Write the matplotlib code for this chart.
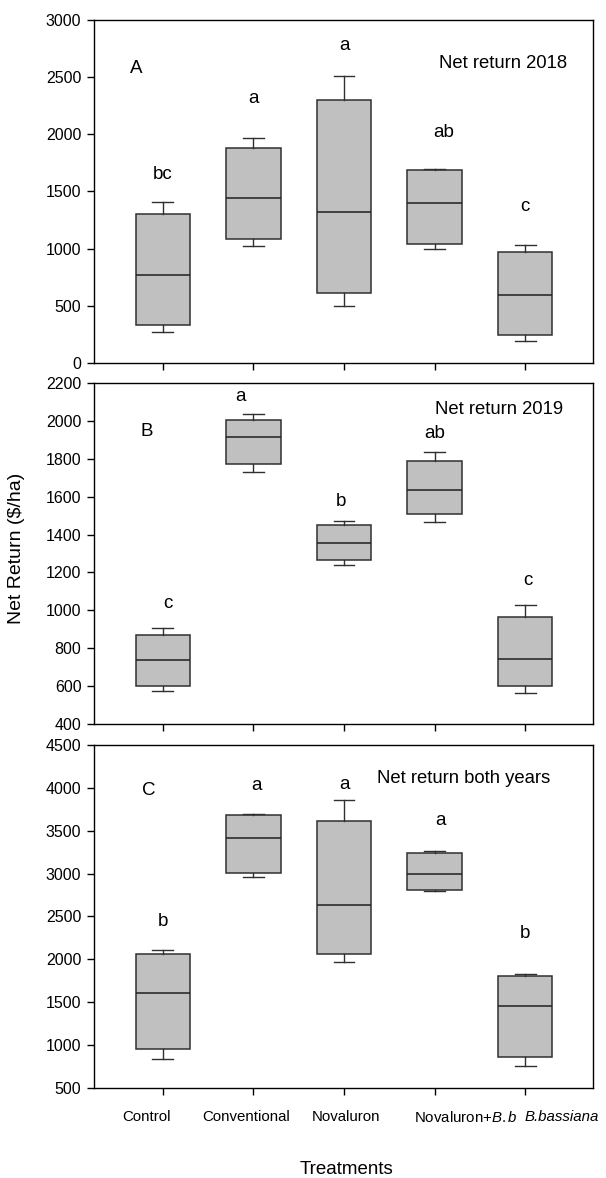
import matplotlib
matplotlib.use("Agg")
import matplotlib.pyplot as plt

plt.rcParams['font.family'] = ['Liberation Sans', 'DejaVu Sans']
plt.rcParams['mathtext.fontset'] = 'custom'
plt.rcParams['mathtext.rm'] = 'Liberation Sans'
plt.rcParams['mathtext.it'] = 'Liberation Sans:italic'

treatments = ["Control", "Conventional", "Novaluron", "Novaluron+$\\it{B{.}b}$", "B.bassiana"]

# box stats per panel: lower whisker, q1, median, q3, upper whisker
a_whislo = [267, 1025, 499, 996, 189]
a_q1 = [334, 1083, 616, 1037, 241]
a_med = [770, 1443, 1321, 1400, 595]
a_q3 = [1307, 1882, 2303, 1684, 967]
a_whishi = [1408, 1966, 2512, 1699, 1031]
a_letters = ["bc", "a", "a", "ab", "c"]
a_letter_y = [1647, 2315, 2779, 2018, 1365]

b_whislo = [572, 1732, 1238, 1467, 563]
b_q1 = [603, 1774, 1264, 1509, 603]
b_med = [738, 1916, 1357, 1636, 745]
b_q3 = [871, 2007, 1450, 1786, 964]
b_whishi = [906, 2035, 1473, 1837, 1029]
b_letters = ["c", "a", "b", "ab", "c"]
b_letter_y = [1038, 2130, 1574, 1935, 1155]

c_whislo = [837, 2963, 1975, 2796, 752]
c_q1 = [953, 3009, 2068, 2804, 856]
c_med = [1611, 3412, 2630, 2997, 1460]
c_q3 = [2060, 3683, 3617, 3241, 1809]
c_whishi = [2111, 3694, 3853, 3268, 1824]
c_letters = ["b", "a", "a", "a", "b"]
c_letter_y = [2436, 4024, 4043, 3617, 2300]

panels = [
    dict(lo=a_whislo, q1=a_q1, med=a_med, q3=a_q3, hi=a_whishi, letters=a_letters,
         ly=a_letter_y, tag="A", tag_y=2576, title="Net return 2018", title_y=2622,
         ylim=(0, 3000), yticks=range(0, 3001, 500),
         letter_dx=[0, 0, 0, 0.1, 0], tag_x=0.71, title_x=5.46,
         rect=[0.155, 0.6919, 0.824, 0.2911]),
    dict(lo=b_whislo, q1=b_q1, med=b_med, q3=b_q3, hi=b_whishi, letters=b_letters,
         ly=b_letter_y, tag="B", tag_y=1944, title="Net return 2019", title_y=2062,
         ylim=(400, 2200), yticks=range(400, 2201, 200),
         letter_dx=[0.06, -0.14, -0.03, 0, 0.03], tag_x=0.82, title_x=5.42,
         rect=[0.155, 0.3854, 0.824, 0.2895]),
    dict(lo=c_whislo, q1=c_q1, med=c_med, q3=c_q3, hi=c_whishi, letters=c_letters,
         ly=c_letter_y, tag="C", tag_y=3965, title="Net return both years", title_y=4113,
         ylim=(500, 4500), yticks=range(500, 4501, 500),
         letter_dx=[0, 0.03, 0, 0.06, 0], tag_x=0.85, title_x=5.27,
         rect=[0.155, 0.0764, 0.824, 0.2912]),
]

fig = plt.figure(figsize=(6.06, 11.78), dpi=100)
pos = [1, 2, 3, 4, 5]

for i, p in enumerate(panels):
    ax = fig.add_axes(p["rect"])
    stats = []
    for k in range(5):
        stats.append(dict(whislo=p["lo"][k], q1=p["q1"][k], med=p["med"][k],
                          q3=p["q3"][k], whishi=p["hi"][k], fliers=[]))
    ax.bxp(stats, positions=pos, widths=0.6, capwidths=0.23, patch_artist=True,
           showfliers=False,
           boxprops=dict(facecolor="#c0c0c0", edgecolor="#303030", linewidth=1.1),
           medianprops=dict(color="#202020", linewidth=1.1),
           whiskerprops=dict(color="#303030", linewidth=1.0),
           capprops=dict(color="#303030", linewidth=1.0))
    for k in range(5):
        ax.text(pos[k] + p["letter_dx"][k], p["ly"][k], p["letters"][k],
                ha="center", va="center", fontsize=13.5)
    ax.text(p["tag_x"], p["tag_y"], p["tag"], ha="center", va="center", fontsize=13.5)
    ax.text(p["title_x"], p["title_y"], p["title"], ha="right", va="center", fontsize=13.3)
    ax.set_xlim(0.24, 5.75)
    ax.set_ylim(*p["ylim"])
    ax.set_yticks(list(p["yticks"]))
    ax.set_xticks(pos)
    ax.set_xticklabels([])
    ax.tick_params(direction="out", length=5, width=1, labelsize=11.5, pad=4,
                   colors="black")
    for s in ax.spines.values():
        s.set_linewidth(1.0)
    if i == 2:
        label_x = [0.824, 1.918, 3.023, 4.349, 5.40]
        for k, t in enumerate(treatments):
            ax.text(label_x[k], -0.085, t, transform=ax.get_xaxis_transform(),
                    ha="center", va="center", fontsize=10.8,
                    style="italic" if t == "B.bassiana" else "normal")

fig.text(17 / 606, 1 - 548 / 1178, "Net Return ($/ha)", rotation=90,
         ha="center", va="center", fontsize=14)
fig.text(346 / 606, 1 - 1170 / 1178, "Treatments", ha="center", va="center", fontsize=13.5)

fig.savefig("out.png", dpi=100)
